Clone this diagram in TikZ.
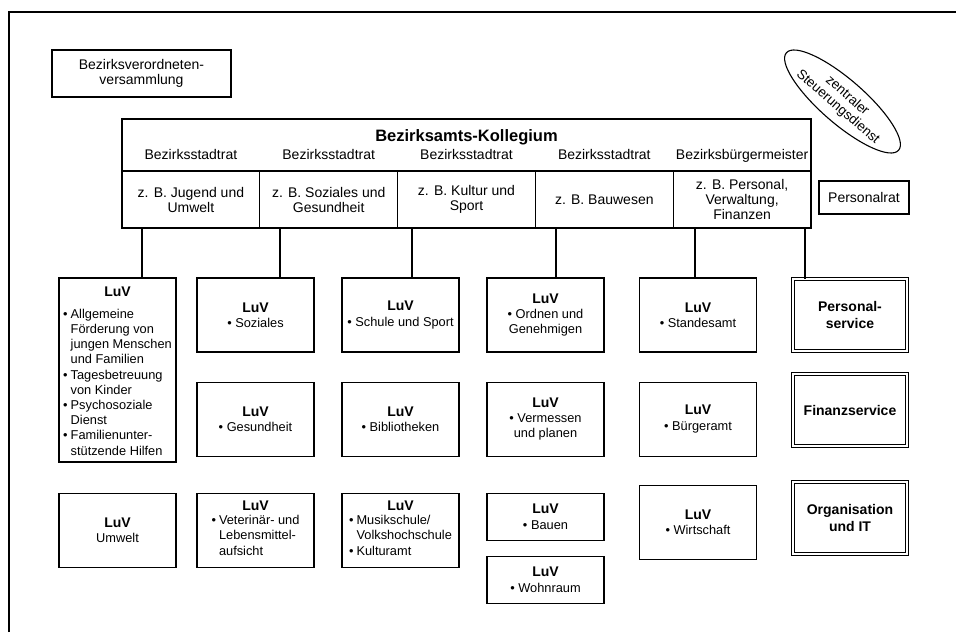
\documentclass[tikz,border=0pt]{standalone}
\usepackage{fontspec}
\setmainfont{Liberation Sans}
\usetikzlibrary{positioning,shapes.geometric}

\newcommand\luvt{{\fontsize{14}{15}\selectfont\bfseries LuV}}

\begin{document}
\begin{tikzpicture}[x=1pt, y=-1pt, line width=1.1pt,
  txt/.style={font=\fontsize{14}{15}\selectfont, align=center},
  box/.style={rectangle, draw, txt, inner sep=2pt},
  kcell/.style={box, minimum width=137.8pt, minimum height=57pt},
  luv/.style={box, minimum width=117pt, minimum height=74pt, font=\fontsize{12.8}{15.4}\selectfont},
  svc/.style={box, double, line width=1pt, double distance=1.5pt, minimum width=114pt,
              minimum height=72pt, font=\fontsize{14}{17}\selectfont\bfseries},
  conn/.style={draw, line width=1.1pt},
]
\useasboundingbox (0,0) rectangle (956,632);

% frame
\draw[line width=1.2pt] (9,632) -- (9,12) -- (956,12);

% top
\node[box, minimum width=179pt, minimum height=47pt] (bvv) at (141.5,73.5) {Bezirksverordneten-\\versammlung};
\node[ellipse, draw, rotate=-41, inner sep=0pt, minimum width=146pt, minimum height=44pt, align=center,
      font=\fontsize{13.5}{14.5}\selectfont] (zsd) at (842.5,101.5) {zentraler\\Steuerungsdienst};

% Kollegium
\node[box, minimum width=689pt, minimum height=52pt] (kolleg) at (466.5,145) {};
\node[font=\fontsize{16.5}{18}\selectfont\bfseries, anchor=base] (ktitle) at (kolleg.north |- 0,141) {Bezirksamts-Kollegium};
\foreach \i/\t/\r in {1/{z. B. Jugend und\\Umwelt}/Bezirksstadtrat,
                      2/{z. B. Soziales und\\Gesundheit}/Bezirksstadtrat,
                      3/{z. B. Kultur und\\Sport}/Bezirksstadtrat,
                      4/{z. B. Bauwesen}/Bezirksstadtrat,
                      5/{z. B. Personal,\\Verwaltung,\\Finanzen}/Bezirksbürgermeister} {
  \node[kcell] (kol\i) at (122+137.8*\i-68.9,199.5) {\t};
  \node[txt, anchor=base] (rat\i) at (kol\i.north |- 0,159) {\r};
}
\node[box, minimum width=90pt, minimum height=33pt] (prat) at (864,197.5) {Personalrat};

% Jugend und Umwelt
\node[luv, minimum height=184pt, inner ysep=0pt, font=\fontsize{12.8}{15.2}\selectfont] (jug) at (117.5,370)
  {\rule{0pt}{16pt}\luvt\\[10pt]
  \begin{tabular}{@{}l@{\hspace{3pt}}l@{}}
  \textbullet & Allgemeine\\
              & Förderung von\\
              & jungen Menschen\\
              & und Familien\\
  \textbullet & Tagesbetreuung\\
              & von Kinder\\
  \textbullet & Psychosoziale\\
              & Dienst\\
  \textbullet & Familienunter-\\
              & stützende Hilfen
  \end{tabular}};
\node[luv, below=30pt of jug] (umw) {\luvt\\Umwelt};

% Soziales und Gesundheit
\node[luv] (soz) at (255.5,315) {\luvt\\\textbullet\ Soziales};
\node[luv, below=29pt of soz] (ges) {\luvt\\\textbullet\ Gesundheit};
\node[luv, below=36pt of ges] (vet) {\luvt\\[2pt]
  \begin{tabular}{@{}l@{\hspace{3pt}}l@{}}
  \textbullet & Veterinär- und\\
              & Lebensmittel-\\
              & aufsicht
  \end{tabular}};

% Kultur und Sport
\node[luv] (sch) at (400.5,315) {\luvt\\\textbullet\ Schule und Sport};
\node[luv, below=29pt of sch] (bib) {\luvt\\\textbullet\ Bibliotheken};
\node[luv, below=36pt of bib] (mus) {\luvt\\[2pt]
  \begin{tabular}{@{}l@{\hspace{3pt}}l@{}}
  \textbullet & Musikschule/\\
              & Volkshochschule\\
  \textbullet & Kulturamt
  \end{tabular}};

% Bauwesen
\node[luv] (ord) at (545.5,315) {\luvt\\\textbullet\ Ordnen und\\Genehmigen};
\node[luv, below=29pt of ord] (verm) {\luvt\\\textbullet\ Vermessen\\und planen};
\node[luv, minimum height=47pt, below=36pt of verm] (bau) {\luvt\\\textbullet\ Bauen};
\node[luv, minimum height=47pt, below=15pt of bau] (wohn) {\luvt\\\textbullet\ Wohnraum};

% Personal, Verwaltung, Finanzen
\node[luv] (std) at (698,315) {\luvt\\\textbullet\ Standesamt};
\node[luv, below=29pt of std] (bue) {\luvt\\\textbullet\ Bürgeramt};
\node[luv, below=28pt of bue] (wirt) {\luvt\\\textbullet\ Wirtschaft};

% Service
\node[svc] (pers) at (850,315) {Personal-\\service};
\node[svc, below=22pt of pers] (fin) {Finanzservice};
\node[svc, below=35pt of fin] (org) {Organisation\\und IT};

% connectors
\foreach \b/\k/\dx in {jug/kol1/24.5, soz/kol2/24.5, sch/kol3/11.5,
                       ord/kol4/10.5, std/kol5/-3, pers/kol5/-45} {
  \path ([xshift=\dx]\b.north) coordinate (c\b);
  \draw[conn] (c\b) -- (c\b |- \k.south);
}
\end{tikzpicture}
\end{document}
